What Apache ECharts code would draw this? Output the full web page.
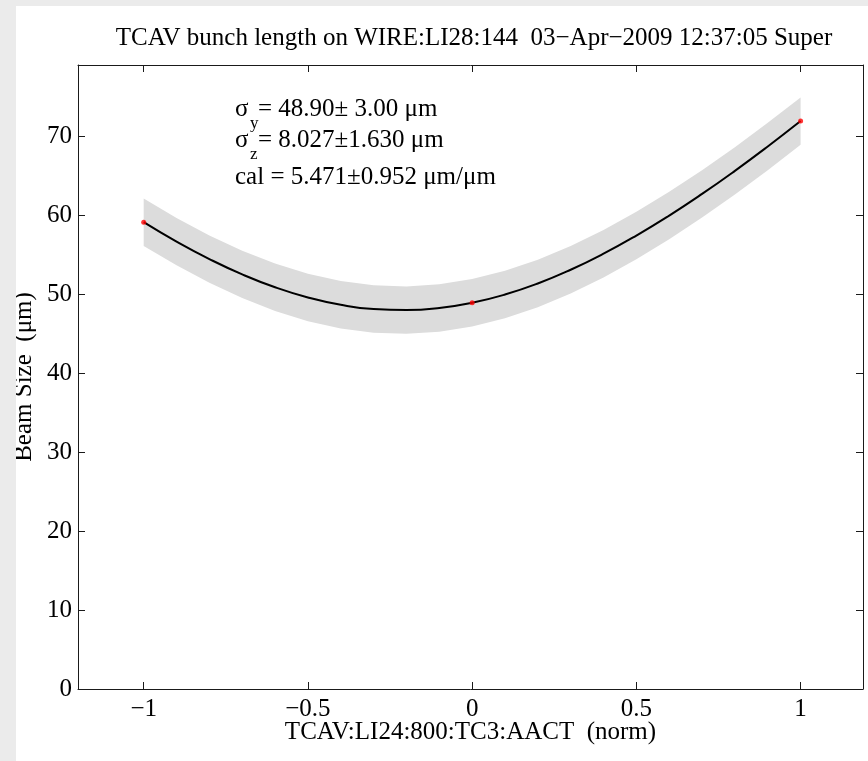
<!DOCTYPE html>
<html>
<head>
<meta charset="utf-8">
<script src="https://cdn.jsdelivr.net/npm/echarts@6/dist/echarts.min.js"></script>
<style>
html,body{margin:0;padding:0;background:#ebebeb;}
#wrap{position:absolute;left:0;top:0;width:868px;height:761px;background:#ebebeb;}
#chart{position:absolute;left:16px;top:6px;width:852px;height:755px;background:#ffffff;}
</style>
</head>
<body>
<div id="wrap"><div id="chart"></div></div>
<script>
// ---- data ----
const titleText = 'TCAV bunch length on WIRE:LI28:144  03\u2212Apr\u22122009 12:37:05 Super';
const xName = 'TCAV:LI24:800:TC3:AACT  (norm)';
const yName = 'Beam Size  (\u03bcm)';
const xTicks = [-1, -0.5, 0, 0.5, 1];
const yTicks = [0, 10, 20, 30, 40, 50, 60, 70];
const fitX = [-1.0, -0.9, -0.8, -0.7, -0.6, -0.5, -0.4, -0.3, -0.2, -0.1, 0.0,
              0.1, 0.2, 0.3, 0.4, 0.5, 0.6, 0.7, 0.8, 0.9, 1.0];
const fitY = [59.10, 56.64, 54.43, 52.49, 50.86, 49.57, 48.64, 48.10, 47.97, 48.23, 48.90,
              49.94, 51.34, 53.08, 55.11, 57.41, 59.94, 62.68, 65.60, 68.68, 71.90];
const bandLow = [56.10, 53.64, 51.43, 49.49, 47.86, 46.57, 45.64, 45.10, 44.97, 45.23, 45.90,
                 46.94, 48.34, 50.08, 52.11, 54.41, 56.94, 59.68, 62.60, 65.68, 68.90];
const bandHigh = [62.10, 59.64, 57.43, 55.49, 53.86, 52.57, 51.64, 51.10, 50.97, 51.23, 51.90,
                  52.94, 54.34, 56.08, 58.11, 60.41, 62.94, 65.68, 68.60, 71.68, 74.90];
const measX = [-1, 0, 1];
const measY = [59.1, 48.9, 71.9];
const annot = [
  {sym: '\u03c3', sub: 'y', rest: '= 48.90\u00b1 3.00 \u03bcm'},
  {sym: '\u03c3', sub: 'z', rest: '= 8.027\u00b11.630 \u03bcm'},
  {sym: '', sub: '', rest: 'cal = 5.471\u00b10.952 \u03bcm/\u03bcm'}
];

// ---- chart ----
const FONT = 'Liberation Serif';
const FS = 25;
const OX = 16, OY = 6; // chart div offset in page
const chart = echarts.init(document.getElementById('chart'), null, {renderer: 'canvas'});
const minusFmt = v => (v < 0 ? '\u2212' + Math.abs(v) : String(v));
const axisCol = '#1a1a1a';

const bandData = fitX.map((x, i) => [x, bandLow[i], bandHigh[i]]);
const fitData = fitX.map((x, i) => [x, fitY[i]]);
const measData = measX.map((x, i) => [x, measY[i]]);

const graphics = [
  {type: 'text', x: 474 - OX, y: 38 - OY,
   style: {text: titleText, font: FS + 'px "' + FONT + '"', fill: '#000', align: 'center', verticalAlign: 'middle'}}
];
const lineY = [109, 140, 177];
annot.forEach((a, i) => {
  const y = lineY[i] - OY;
  if (a.sym) {
    graphics.push({type: 'text', x: 235 - OX, y: y,
      style: {text: a.sym, font: FS + 'px "' + FONT + '"', fill: '#000', align: 'left', verticalAlign: 'middle'}});
    graphics.push({type: 'text', x: 250 - OX, y: y + 15,
      style: {text: a.sub, font: '17px "' + FONT + '"', fill: '#000', align: 'left', verticalAlign: 'middle'}});
    graphics.push({type: 'text', x: 258 - OX, y: y,
      style: {text: a.rest, font: FS + 'px "' + FONT + '"', fill: '#000', align: 'left', verticalAlign: 'middle'}});
  } else {
    graphics.push({type: 'text', x: 235 - OX, y: y,
      style: {text: a.rest, font: FS + 'px "' + FONT + '"', fill: '#000', align: 'left', verticalAlign: 'middle'}});
  }
});

const baseAxisLine = {show: true, onZero: false, lineStyle: {color: axisCol, width: 1}};
const labelStyle = {fontFamily: FONT, fontSize: FS, color: '#000'};

chart.setOption({
  animation: false,
  backgroundColor: '#ffffff',
  textStyle: {fontFamily: FONT},
  grid: {left: 78 - OX, top: 65 - OY, right: 5, bottom: 761 - 689, containLabel: false, outerBoundsMode: 'none'},
  xAxis: [
    {type: 'value', position: 'bottom', min: -1.2, max: 1.19,
     axisLine: baseAxisLine,
     axisTick: {show: true, inside: true, length: 7, customValues: xTicks, lineStyle: {color: axisCol}},
     axisLabel: Object.assign({show: true, margin: 8, customValues: xTicks, formatter: minusFmt}, labelStyle),
     splitLine: {show: false},
     name: xName, nameLocation: 'middle', nameGap: 31, nameMoveOverlap: false,
     nameTextStyle: labelStyle},
    {type: 'value', position: 'top', min: -1.2, max: 1.19,
     axisLine: baseAxisLine,
     axisTick: {show: true, inside: true, length: 7, customValues: xTicks, lineStyle: {color: axisCol}},
     axisLabel: {show: false}, splitLine: {show: false}}
  ],
  yAxis: [
    {type: 'value', position: 'left', min: 0, max: 79,
     axisLine: baseAxisLine,
     axisTick: {show: true, inside: true, length: 7, customValues: yTicks, lineStyle: {color: axisCol}},
     axisLabel: Object.assign({show: true, margin: 6, customValues: yTicks}, labelStyle),
     splitLine: {show: false},
     name: yName, nameLocation: 'middle', nameGap: 41, nameRotate: 90, nameMoveOverlap: false,
     nameTextStyle: labelStyle},
    {type: 'value', position: 'right', min: 0, max: 79,
     axisLine: baseAxisLine,
     axisTick: {show: true, inside: true, length: 7, customValues: yTicks, lineStyle: {color: axisCol}},
     axisLabel: {show: false}, splitLine: {show: false}}
  ],
  series: [
    {type: 'custom', name: 'band', data: bandData, encode: {x: 0, y: [1, 2]}, z: 1, silent: true,
     renderItem: function (params, api) {
       if (params.dataIndex !== 0) return null;
       const pts = [];
       for (let i = 0; i < bandData.length; i++) pts.push(api.coord([bandData[i][0], bandData[i][2]]));
       for (let i = bandData.length - 1; i >= 0; i--) pts.push(api.coord([bandData[i][0], bandData[i][1]]));
       return {type: 'polygon', shape: {points: pts}, style: {fill: '#dcdcdc', stroke: null}};
     }},
    {type: 'line', name: 'fit', data: fitData, smooth: true, symbol: 'none',
     lineStyle: {color: '#000', width: 2}, z: 3},
    {type: 'scatter', name: 'measured', data: measData, symbol: 'circle', symbolSize: 5,
     itemStyle: {color: '#ff0000'}, z: 4}
  ],
  graphic: graphics
});
</script>
</body>
</html>
